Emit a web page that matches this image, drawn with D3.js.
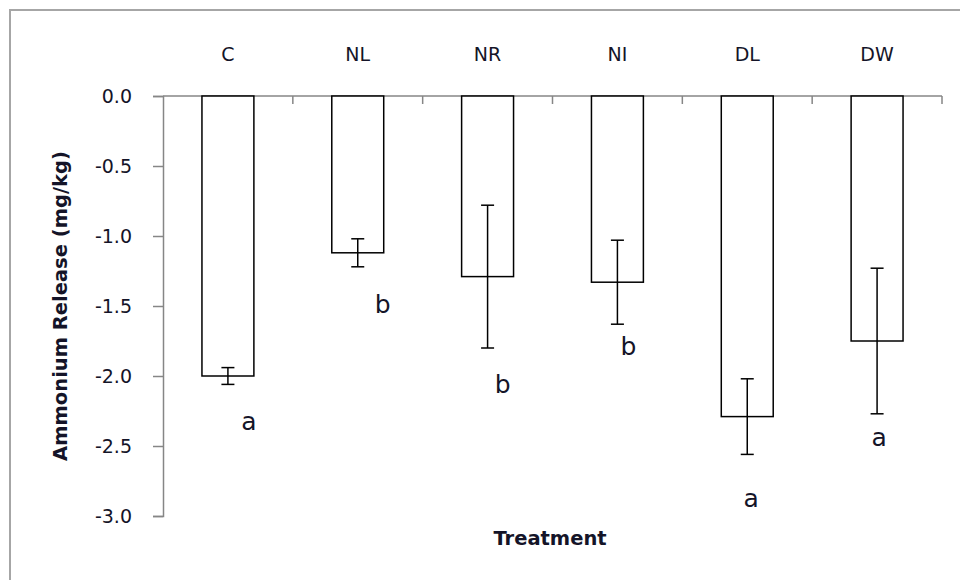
<!DOCTYPE html>
<html>
<head>
<meta charset="utf-8">
<script src="https://cdn.jsdelivr.net/npm/d3@7"></script>
<style>
  html, body { margin: 0; padding: 0; background: #fff; }
  svg { display: block; }
</style>
</head>
<body>
<svg id="chart" width="960" height="580"></svg>
<script>
// Treatments and their mean ammonium release with error bars
const treatments = ["C", "NL", "NR", "NI", "DL", "DW"];
const meanRelease = [-2.00, -1.12, -1.29, -1.33, -2.29, -1.75];
const errorRange = [0.06, 0.10, 0.51, 0.30, 0.27, 0.52];
const groupLetters = ["a", "b", "b", "b", "a", "a"];
const yTickValues = [0, -0.5, -1.0, -1.5, -2.0, -2.5, -3.0];
const yTickLabels = ["0.0", "-0.5", "-1.0", "-1.5", "-2.0", "-2.5", "-3.0"];

// Letter placement below each error bar: [dx, dy] in pixels
const letterNudge = [[21, 46], [25, 46], [15, 45], [11, 31], [4, 53], [2, 32]];

const svg = d3.select("#chart");
const axisColor = "#868686";
const textColor = "#141428";

// Outer chart frame
svg.append("rect")
  .attr("x", 10).attr("y", 10)
  .attr("width", 980).attr("height", 600)
  .attr("fill", "none")
  .attr("stroke", "#a6a6a6")
  .attr("stroke-width", 2);

const x = d3.scaleBand().domain(treatments).range([163, 942]).padding(0);
const y = d3.scaleLinear().domain([-3, 0]).range([516, 96]);
const barW = x.bandwidth() * 0.4;

// Y axis
const yAxis = d3.axisLeft(y)
  .tickValues(yTickValues)
  .tickSize(10)
  .tickPadding(21)
  .tickFormat((d, i) => yTickLabels[i]);

const gy = svg.append("g").attr("transform", "translate(163,0)").call(yAxis);
gy.select(".domain").attr("stroke", axisColor).attr("stroke-width", 1.5);
gy.selectAll(".tick line").attr("stroke", axisColor).attr("stroke-width", 1.5);
gy.selectAll(".tick text")
  .attr("fill", textColor)
  .style("font-family", "DejaVu Sans")
  .style("font-size", "19px");

// X axis along the zero line, ticks at category boundaries
const boundaries = treatments.map(t => x(t)).concat([x.range()[1]]);
svg.append("line")
  .attr("x1", x.range()[0]).attr("x2", x.range()[1])
  .attr("y1", y(0)).attr("y2", y(0))
  .attr("stroke", axisColor).attr("stroke-width", 1.5);
svg.append("g").selectAll("line")
  .data(boundaries.slice(1))
  .join("line")
  .attr("x1", d => d).attr("x2", d => d)
  .attr("y1", y(0)).attr("y2", y(0) + 8)
  .attr("stroke", axisColor).attr("stroke-width", 1.5);

// Category labels above the plot
svg.append("g").selectAll("text")
  .data(treatments)
  .join("text")
  .attr("x", d => x(d) + x.bandwidth() / 2)
  .attr("y", 61)
  .attr("text-anchor", "middle")
  .attr("fill", textColor)
  .style("font-family", "DejaVu Sans")
  .style("font-size", "19px")
  .text(d => d);

// Bars hanging down from zero
svg.append("g").selectAll("rect")
  .data(treatments)
  .join("rect")
  .attr("x", d => x(d) + (x.bandwidth() - barW) / 2)
  .attr("y", y(0))
  .attr("width", barW)
  .attr("height", (d, i) => y(meanRelease[i]) - y(0))
  .attr("fill", "#fff")
  .attr("stroke", "#000")
  .attr("stroke-width", 1.5);

// Error bars
const eb = svg.append("g").attr("stroke", "#000").attr("stroke-width", 1.5);
treatments.forEach((t, i) => {
  const cx = x(t) + x.bandwidth() / 2;
  const hi = y(meanRelease[i] + errorRange[i]);
  const lo = y(meanRelease[i] - errorRange[i]);
  eb.append("line").attr("x1", cx).attr("x2", cx).attr("y1", hi).attr("y2", lo);
  eb.append("line").attr("x1", cx - 6.5).attr("x2", cx + 6.5).attr("y1", hi).attr("y2", hi);
  eb.append("line").attr("x1", cx - 6.5).attr("x2", cx + 6.5).attr("y1", lo).attr("y2", lo);
});

// Significance group letters
svg.append("g").selectAll("text")
  .data(treatments)
  .join("text")
  .attr("x", (d, i) => x(d) + x.bandwidth() / 2 + letterNudge[i][0])
  .attr("y", (d, i) => y(meanRelease[i] - errorRange[i]) + letterNudge[i][1])
  .attr("text-anchor", "middle")
  .attr("fill", textColor)
  .style("font-family", "DejaVu Sans")
  .style("font-size", "25px")
  .text((d, i) => groupLetters[i]);

// Axis titles
svg.append("text")
  .attr("transform", "translate(67,306) rotate(-90)")
  .attr("text-anchor", "middle")
  .attr("fill", textColor)
  .style("font-family", "DejaVu Sans")
  .style("font-weight", "bold")
  .style("font-size", "19.5px")
  .text("Ammonium Release (mg/kg)");

svg.append("text")
  .attr("x", 550).attr("y", 545)
  .attr("text-anchor", "middle")
  .attr("fill", textColor)
  .style("font-family", "DejaVu Sans")
  .style("font-weight", "bold")
  .style("font-size", "19.5px")
  .text("Treatment");
</script>
</body>
</html>
